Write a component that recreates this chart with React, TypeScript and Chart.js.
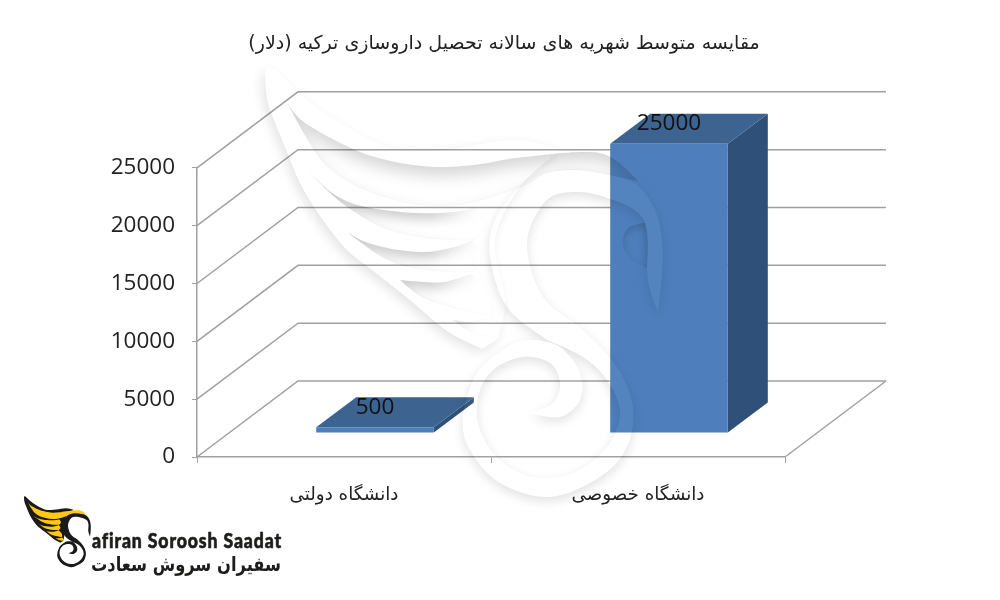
import React, { useEffect, useRef } from "react";
import { Chart, registerables } from "chart.js";

Chart.register(...registerables);

const titleText = "مقایسه متوسط شهریه های سالانه تحصیل داروسازی ترکیه (دلار)";
const categories = ["دانشگاه دولتی", "دانشگاه خصوصی"];
const tuition = [500, 25000];
const yTickStep = 5000;
const yMax = 25000;
const brandLatin = "afiran Soroosh Saadat";
const brandPersian = "سفیران سروش سعادت";

type P = [number, number];
const FLOOR_DX = 101;
const FLOOR_DY = -76;
const BAR_DX = 40;
const BAR_DY = -30;
const BAR_SHIFT_X = 31;
const BAR_SHIFT_Y = -24;
const GRID = "#a0a0a0";

function shape(segments: P[][], close = true): Path2D {
  const p = new Path2D();
  p.moveTo(segments[0][0][0], segments[0][0][1]);
  for (const s of segments) {
    for (let i = 0; i < s.length - 1; i++) {
      const a = s[Math.max(i - 1, 0)];
      const b = s[i];
      const c = s[i + 1];
      const d = s[Math.min(i + 2, s.length - 1)];
      p.bezierCurveTo(
        b[0] + (c[0] - a[0]) / 6,
        b[1] + (c[1] - a[1]) / 6,
        c[0] - (d[0] - b[0]) / 6,
        c[1] - (d[1] - b[1]) / 6,
        c[0],
        c[1]
      );
    }
  }
  if (close) p.closePath();
  return p;
}

const wingOutline: P[][] = [
  [[265, 72], [268, 103], [285, 147], [300, 183], [318, 213], [345, 248], [372, 270], [400, 292], [425, 313], [450, 333], [482, 349]],
  [[482, 349], [498, 339]],
  [[498, 339], [505, 300], [495, 240], [520, 187], [560, 150]],
  [[560, 150], [515, 140], [440, 150], [388, 147], [320, 110], [275, 70], [265, 72]],
];
const feathers: P[][][] = [
  [
    [[287, 103], [305, 123], [355, 150], [395, 162], [435, 167], [475, 165], [517, 158], [583, 152], [612, 158], [638, 181]],
    [[638, 181], [610, 175], [577, 170], [547, 173], [520, 187], [455, 205], [388, 198], [328, 167], [287, 103]],
  ],
  [
    [[310, 173], [335, 195], [365, 207], [415, 213], [455, 212], [475, 208]],
    [[475, 208], [485, 225], [475, 240]],
    [[475, 240], [428, 238], [382, 227], [342, 203], [310, 173]],
  ],
  [
    [[348, 233], [368, 243], [398, 250], [428, 252], [455, 247], [472, 241]],
    [[472, 241], [482, 258], [472, 272]],
    [[472, 272], [428, 270], [388, 260], [348, 233]],
  ],
  [
    [[400, 280], [422, 282], [445, 282], [472, 274]],
    [[472, 274], [490, 295], [492, 315]],
    [[492, 315], [455, 308], [422, 297], [400, 280]],
  ],
  [
    [[453, 320], [472, 322], [492, 317]],
    [[492, 317], [500, 328], [495, 337]],
    [[495, 337], [472, 332], [453, 320]],
  ],
];
const swirl: P[][] = [
  [[547, 340], [507, 307], [490, 257], [495, 220], [520, 187], [547, 173], [577, 170], [610, 175], [637, 185], [655, 210], [662, 240], [662, 275], [658, 312]],
  [[658, 312], [650, 290], [647, 268], [647, 230], [637, 212], [613, 200], [580, 192], [547, 200], [527, 243], [543, 297], [583, 330], [617, 367], [633, 407], [627, 447], [600, 477], [550, 497], [500, 483], [470, 450], [463, 417], [477, 373], [507, 347], [530, 340], [560, 347], [580, 373], [580, 400], [560, 417], [530, 413]],
  [[530, 413], [553, 403], [560, 383], [550, 363], [523, 357], [493, 370], [478, 397], [480, 430], [500, 460], [533, 477], [573, 473], [607, 447], [620, 413], [607, 380], [583, 357], [547, 340]],
];
const eye: P[][] = [
  [[645, 223], [628, 228], [623, 245], [632, 260], [647, 268]],
  [[647, 268], [648, 245], [645, 223]],
];

function outerShadow(ctx: CanvasRenderingContext2D, path: Path2D, color: string, blur: number, dx: number, dy: number) {
  ctx.save();
  const clip = new Path2D();
  clip.addPath(path);
  clip.rect(0, 0, 1000, 600);
  ctx.clip(clip, "evenodd");
  ctx.shadowColor = color;
  ctx.shadowBlur = blur;
  ctx.shadowOffsetX = dx + 3000;
  ctx.shadowOffsetY = dy;
  ctx.translate(-3000, 0);
  ctx.fillStyle = "#000";
  ctx.fill(path);
  ctx.restore();
}

function innerShadow(ctx: CanvasRenderingContext2D, path: Path2D, color: string, blur: number, dx: number, dy: number) {
  ctx.save();
  ctx.clip(path);
  const ring = new Path2D();
  ring.addPath(path);
  ring.rect(-100, -100, 1200, 800);
  ctx.shadowColor = color;
  ctx.shadowBlur = blur;
  ctx.shadowOffsetX = dx + 3000;
  ctx.shadowOffsetY = dy;
  ctx.translate(-3000, 0);
  ctx.fillStyle = "#000";
  ctx.fill(ring, "evenodd");
  ctx.restore();
}

const frame3d = {
  id: "frame3d",
  beforeDatasetsDraw(chart: any) {
    const { ctx, chartArea: a, scales } = chart;
    const y = scales.y;
    ctx.save();
    ctx.strokeStyle = GRID;
    ctx.lineWidth = 1.5;
    ctx.lineJoin = "miter";
    for (const t of y.ticks) {
      const py = y.getPixelForValue(t.value);
      ctx.beginPath();
      ctx.moveTo(a.left, py);
      ctx.lineTo(a.left + FLOOR_DX, py + FLOOR_DY);
      ctx.lineTo(a.right + FLOOR_DX, py + FLOOR_DY);
      ctx.stroke();
    }
    ctx.beginPath();
    ctx.moveTo(a.right, a.bottom);
    ctx.lineTo(a.right + FLOOR_DX, a.bottom + FLOOR_DY);
    ctx.stroke();
    ctx.restore();

    const meta = chart.getDatasetMeta(0);
    ctx.save();
    meta.data.forEach((el: any) => {
      const { x, y: top, base, width } = el.getProps(["x", "y", "base", "width"], true);
      const l = x - width / 2 + BAR_SHIFT_X;
      const r = x + width / 2 + BAR_SHIFT_X;
      const t = top + BAR_SHIFT_Y;
      const b = base + BAR_SHIFT_Y;
      ctx.fillStyle = "#2f5078";
      ctx.beginPath();
      ctx.moveTo(r, t);
      ctx.lineTo(r + BAR_DX, t + BAR_DY);
      ctx.lineTo(r + BAR_DX, b + BAR_DY);
      ctx.lineTo(r, b);
      ctx.closePath();
      ctx.fill();
      ctx.fillStyle = "#3d6391";
      ctx.beginPath();
      ctx.moveTo(l, t);
      ctx.lineTo(l + BAR_DX, t + BAR_DY);
      ctx.lineTo(r + BAR_DX, t + BAR_DY);
      ctx.lineTo(r, t);
      ctx.closePath();
      ctx.fill();
    });
    ctx.restore();
    ctx.save();
    ctx.translate(BAR_SHIFT_X, BAR_SHIFT_Y);
  },
  afterDatasetsDraw(chart: any) {
    const { ctx } = chart;
    ctx.restore();
    const meta = chart.getDatasetMeta(0);
    ctx.save();
    ctx.fillStyle = "#111";
    ctx.font = "22.5px 'Open Sans'";
    ctx.textAlign = "center";
    ctx.textBaseline = "middle";
    meta.data.forEach((el: any, i: number) => {
      const { x, y } = el.getProps(["x", "y"], true);
      ctx.fillText(String(tuition[i]), x + BAR_SHIFT_X, y + BAR_SHIFT_Y - 20);
    });
    ctx.restore();
  },
};

const brand = {
  id: "brand",
  afterLayout(chart: any) {
    if (chart.titleBlock) {
      chart.titleBlock.left = 8;
      chart.titleBlock.right = 1000;
    }
  },
  afterDraw(chart: any) {
    const ctx: CanvasRenderingContext2D = chart.ctx;
    const wing = shape(wingOutline);
    const band = shape(swirl);
    const eyeHole = shape(eye);
    const crescents = feathers.map((f) => shape(f));

    // watermark: feather shading is built apart so that its right ends can fade out
    const layer = document.createElement("canvas");
    layer.width = 1000;
    layer.height = 600;
    const lc = layer.getContext("2d") as CanvasRenderingContext2D;
    crescents.slice(1).forEach((c) => {
      innerShadow(lc, c, "rgba(0,0,0,0.2)", 12, 0, 6);
    });
    const fade = lc.createLinearGradient(430, 0, 478, 0);
    fade.addColorStop(0, "rgba(0,0,0,0)");
    fade.addColorStop(1, "rgba(0,0,0,1)");
    lc.globalCompositeOperation = "destination-out";
    lc.fillStyle = fade;
    lc.fillRect(0, 0, 1000, 600);

    ctx.save();
    outerShadow(ctx, wing, "rgba(0,0,0,0.11)", 12, -3, 4);
    innerShadow(ctx, crescents[0], "rgba(0,0,0,0.17)", 16, 0, 8);
    ctx.drawImage(layer, 0, 0);
    ctx.strokeStyle = "rgba(0,0,0,0.02)";
    ctx.lineWidth = 1;
    crescents.forEach((c) => ctx.stroke(c));
    ctx.fillStyle = "rgba(255,255,255,0.04)";
    ctx.fill(band);
    outerShadow(ctx, band, "rgba(0,0,0,0.12)", 11, 0, 4);
    innerShadow(ctx, eyeHole, "rgba(0,0,0,0.17)", 8, 0, 3);
    ctx.restore();

    // logo, same artwork at small scale
    ctx.save();
    ctx.translate(24, 497);
    ctx.scale(0.168, 0.165);
    ctx.translate(-265, -72);
    ctx.fillStyle = "#1a1a1a";
    ctx.fill(wing);
    ctx.fillStyle = "#fcc917";
    crescents.forEach((c) => ctx.fill(c));
    ctx.fillStyle = "#1a1a1a";
    ctx.fill(band);
    ctx.fillStyle = "#fff";
    ctx.fill(eyeHole);
    ctx.restore();

    ctx.save();
    ctx.fillStyle = "#1d1d1b";
    ctx.strokeStyle = "#1d1d1b";
    ctx.lineWidth = 0.6;
    ctx.direction = "ltr";
    ctx.textAlign = "left";
    ctx.textBaseline = "alphabetic";
    ctx.font = "900 20px Lato";
    (ctx as any).letterSpacing = "1px";
    ctx.fillText(brandLatin, 92, 548, 190);
    ctx.strokeText(brandLatin, 92, 548, 190);
    (ctx as any).letterSpacing = "0px";
    ctx.direction = "rtl";
    ctx.textAlign = "right";
    ctx.font = "bold 20px 'DejaVu Sans'";
    ctx.fillText(brandPersian, 281, 571, 190);
    ctx.restore();
  },
};

export default function App() {
  const ref = useRef<HTMLCanvasElement>(null);
  useEffect(() => {
    const chart = new Chart(ref.current as HTMLCanvasElement, {
      type: "bar",
      data: {
        labels: categories,
        datasets: [
          {
            data: tuition,
            backgroundColor: "#4e7fbc",
            categoryPercentage: 1,
            barPercentage: 0.4,
          },
        ],
      },
      options: {
        animation: false,
        responsive: false,
        layout: { padding: { right: 215, left: 0, top: 0, bottom: 0 } },
        plugins: {
          legend: { display: false },
          tooltip: { enabled: false },
          title: {
            display: true,
            text: titleText,
            color: "#222",
            font: { family: "'DejaVu Sans'", size: 19, weight: "normal" },
            padding: { top: 33, bottom: 112 },
          },
        },
        scales: {
          x: {
            afterFit: (s: any) => {
              s.height = 143;
            },
            border: { display: true, color: GRID, width: 1.5 },
            grid: { display: true, drawOnChartArea: false, color: GRID, tickLength: 6, offset: true },
            ticks: { color: "#222", font: { family: "'DejaVu Sans'", size: 18.3 }, padding: 21 },
          },
          y: {
            min: 0,
            max: yMax,
            afterFit: (s: any) => {
              s.width = 197;
            },
            border: { display: true, color: GRID, width: 1.5 },
            grid: { display: true, drawOnChartArea: false, color: GRID, tickLength: 5 },
            ticks: {
              stepSize: yTickStep,
              color: "#222",
              font: { family: "'Open Sans'", size: 22.5 },
              padding: 17,
              callback: (v: any) => String(v),
            },
          },
        },
      },
      plugins: [frame3d, brand],
    } as any);
    return () => chart.destroy();
  }, []);
  return (
    <div style={{ position: "fixed", left: 0, top: 0, width: 1000, height: 600, background: "#fff" }}>
      <canvas ref={ref} width={1000} height={600} dir="rtl" style={{ display: "block", width: 1000, height: 600 }} />
    </div>
  );
}
